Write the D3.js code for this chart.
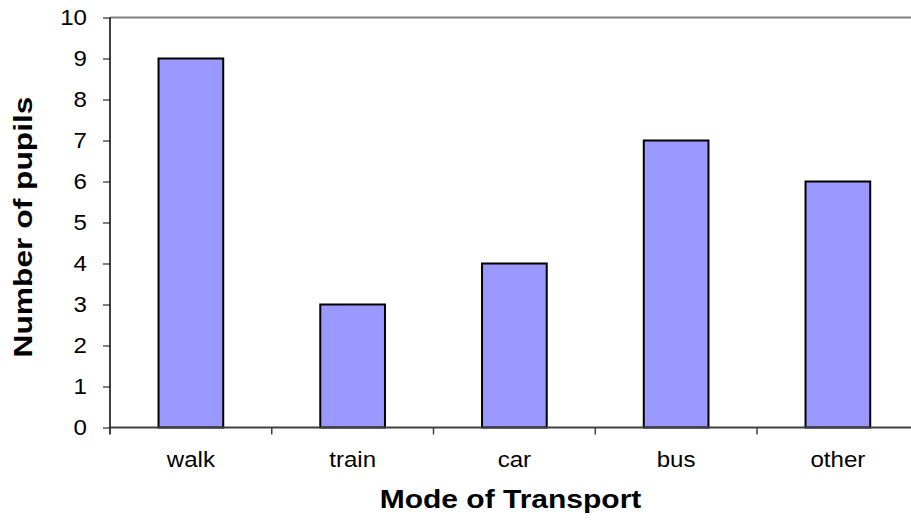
<!DOCTYPE html>
<html>
<head>
<meta charset="utf-8">
<script src="https://cdn.jsdelivr.net/npm/d3@7"></script>
<style>
  body { margin: 0; background: #fff; }
  text { font-family: Arial, "Liberation Sans", sans-serif; fill: #000; }
</style>
</head>
<body>
<svg id="chart" width="911" height="520"></svg>
<script>
// data
var modes = ["walk", "train", "car", "bus", "other"];
var pupils = [9, 3, 4, 7, 6];
var yTicks = [0, 1, 2, 3, 4, 5, 6, 7, 8, 9, 10];

var svg = d3.select("#chart");

var plotLeft = 110, plotTop = 17.5, plotBottom = 427.5;
var plotRight = plotLeft + 5 * 161.75; // plot runs past the window edge
var stretch = 1.07; // the original text is a bit wide

var x = d3.scaleBand().domain(modes).range([plotLeft, plotRight]).paddingInner(0).paddingOuter(0);
var y = d3.scaleLinear().domain([0, 10]).range([plotBottom, plotTop]);

// top border of the plot area
svg.append("line")
    .attr("x1", plotLeft).attr("x2", plotRight)
    .attr("y1", plotTop).attr("y2", plotTop)
    .attr("stroke", "#808080").attr("stroke-width", 2);

// bars
svg.append("g").selectAll("rect")
    .data(modes)
    .enter().append("rect")
    .attr("x", function (d) { return x(d) + x.bandwidth() * 0.3; })
    .attr("width", x.bandwidth() * 0.4)
    .attr("y", function (d, i) { return y(pupils[i]); })
    .attr("height", function (d, i) { return plotBottom - y(pupils[i]); })
    .attr("fill", "#9999ff")
    .attr("stroke", "#000")
    .attr("stroke-width", 2);

// y axis
var yAxis = d3.axisLeft(y).tickValues(yTicks).tickSize(7).tickFormat(d3.format("d"));
var yg = svg.append("g").attr("transform", "translate(" + plotLeft + ",0)").call(yAxis);
yg.select(".domain").remove();
yg.selectAll(".tick line").attr("stroke", "#000").attr("stroke-width", 1);
yg.selectAll(".tick text")
    .attr("x", -23 / stretch)
    .attr("transform", "scale(" + stretch + ",1)")
    .style("font-size", "22.5px").style("font-family", "Arial, 'Liberation Sans', sans-serif");
svg.append("line")
    .attr("x1", plotLeft).attr("x2", plotLeft)
    .attr("y1", plotTop).attr("y2", plotBottom + 7)
    .attr("stroke", "#000").attr("stroke-width", 1.5);

// x axis (ticks on category boundaries)
var xAxis = d3.axisBottom(x).tickSize(0).tickPadding(24);
var xg = svg.append("g").attr("transform", "translate(0," + plotBottom + ")").call(xAxis);
xg.select(".domain").remove();
xg.selectAll(".tick text")
    .attr("transform", "scale(" + stretch + ",1)")
    .style("font-size", "22.5px").style("font-family", "Arial, 'Liberation Sans', sans-serif");
svg.append("line")
    .attr("x1", plotLeft).attr("x2", plotRight)
    .attr("y1", plotBottom).attr("y2", plotBottom)
    .attr("stroke", "#404040").attr("stroke-width", 2);
svg.append("g").selectAll("line")
    .data(modes.slice(1))
    .enter().append("line")
    .attr("x1", function (d) { return x(d); })
    .attr("x2", function (d) { return x(d); })
    .attr("y1", plotBottom).attr("y2", plotBottom + 7)
    .attr("stroke", "#404040").attr("stroke-width", 1.5);

// axis titles
svg.append("text")
    .attr("transform", "translate(" + ((plotLeft + 911) / 2) + ",508) scale(1.2,1)")
    .attr("text-anchor", "middle")
    .style("font-size", "25px").style("font-weight", "bold")
    .text("Mode of Transport");

svg.append("text")
    .attr("transform", "translate(32,227) rotate(-90) scale(1.27,1)")
    .attr("text-anchor", "middle")
    .style("font-size", "25px").style("font-weight", "bold")
    .text("Number of pupils");
</script>
</body>
</html>
